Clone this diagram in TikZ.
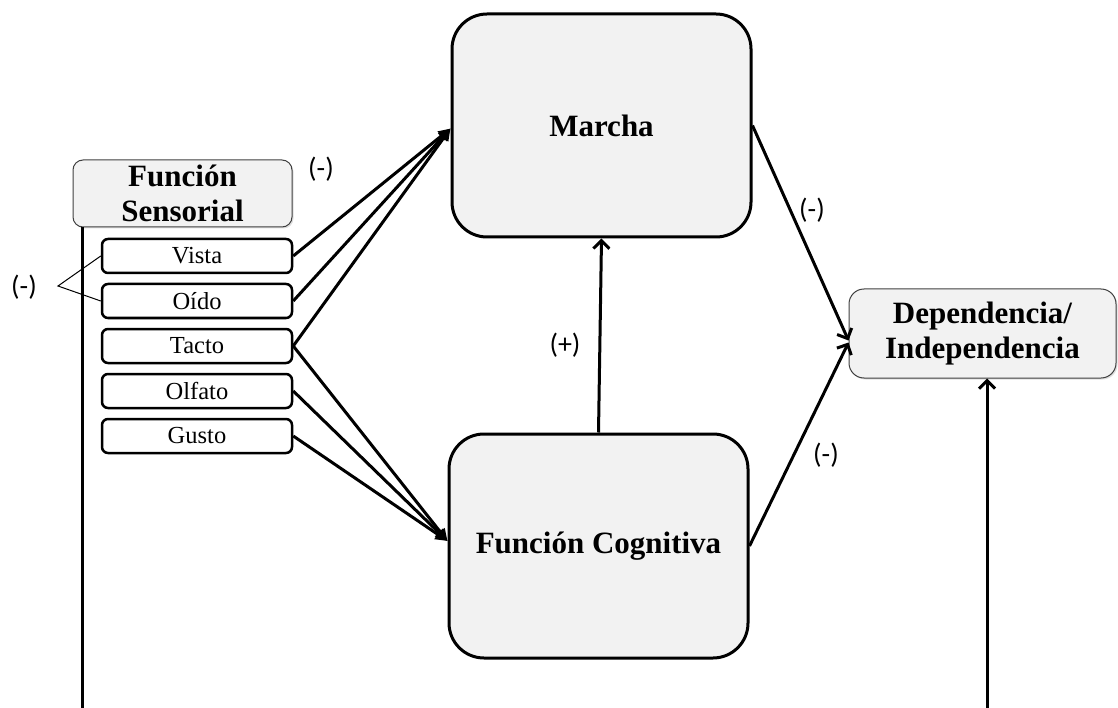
\documentclass[tikz,border=0pt]{standalone}
\usepackage{fontspec}
\setmainfont{Liberation Serif}
\newfontfamily\lblfont{Carlito}
\usetikzlibrary{arrows.meta,shadows}
\definecolor{boxgray}{HTML}{F2F2F2}
\begin{document}
\begin{tikzpicture}[x=1pt,y=-1pt,
  bigbox/.style={draw=black, line width=3pt, fill=boxgray, rounded corners=35pt,
    minimum width=299pt, minimum height=223pt, inner sep=0pt,
    font=\fontsize{31}{34}\selectfont\bfseries},
  sense/.style={draw=black, line width=2.5pt, fill=white, rounded corners=6pt,
    minimum width=190pt, minimum height=34pt, inner sep=0pt,
    font=\fontsize{24.5}{27}\selectfont},
  headbox/.style={draw=black!75, line width=1pt, fill=boxgray, align=center,
    inner sep=0pt, drop shadow={opacity=0.25, shadow xshift=1.5pt, shadow yshift=-1.5pt},
    font=\fontsize{31}{35}\selectfont\bfseries},
  lbl/.style={font=\lblfont\fontsize{28}{32}\selectfont},
  conn/.style={line width=3pt, -{Triangle[length=12pt,width=11pt]}},
  openarr/.style={line width=3pt, -{Straight Barb[length=8pt,width=16pt]}},
  thin/.style={line width=1pt},
]
\useasboundingbox (0,0) rectangle (1118,708);

% main boxes
\node[bigbox] (m) at (601.5,125.5) {Marcha};
\node[bigbox, minimum height=224pt] (c) at (598.5,546) {Función Cognitiva};
\node[headbox, rounded corners=15pt, minimum width=267pt, minimum height=89pt]
  (d) at (982.5,333.5) {Dependencia/\\Independencia};
\node[headbox, rounded corners=10pt, minimum width=219pt, minimum height=67pt]
  (fs) at (182.5,193.5) {Función\\Sensorial};

% sensory boxes
\node[sense] (vista)  at (197,256) {Vista};
\node[sense] (oido)   at (197,301) {Oído};
\node[sense] (tacto)  at (197,346) {Tacto};
\node[sense] (olfato) at (197,391) {Olfato};
\node[sense] (gusto)  at (197,436) {Gusto};

% labels
\node[lbl] (l1) at (321,169) {(-)};
\node[lbl] (l2) at (24,287) {(-)};
\node[lbl] (l3) at (812,210) {(-)};
\node[lbl] (l4) at (565,345) {(+)};
\node[lbl] (l5) at (826,455) {(-)};

% bracket
\coordinate (br) at (58,286);
\draw[thin] (vista.west) -- (br) -- (oido.west);

% sensory connectors
\draw[conn] (vista.east) -- ([yshift=-3pt]m.west);
\draw[conn] (oido.east)  -- ([yshift=-3pt]m.west);
\draw[conn] (tacto.east) -- ([yshift=-3pt]m.west);
\draw[conn] (tacto.east) -- ([yshift=5pt]c.west);
\draw[conn] (olfato.east) -- ([yshift=5pt]c.west);
\draw[conn] (gusto.east) -- ([yshift=5pt]c.west);

% other connectors
\draw[openarr] (c.north) -- (m.south);
\draw[openarr] (m.east) -- ([yshift=-7pt]d.west);
\draw[openarr] (c.east) -- ([yshift=-9pt]d.west);

\coordinate (db) at (987,708);
\draw[openarr] (db) -- (db |- d.south);

\coordinate (fb) at (82,708);
\draw[line width=3pt] (fb |- fs.south) -- (fb);
\end{tikzpicture}
\end{document}
